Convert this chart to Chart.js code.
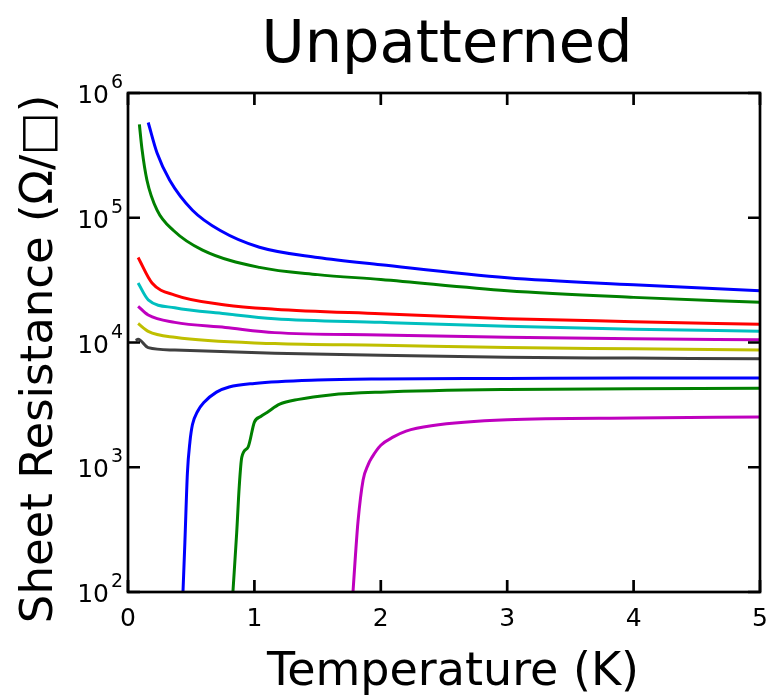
<!DOCTYPE html>
<html>
<head>
<meta charset="utf-8">
<script src="https://cdn.jsdelivr.net/npm/chart.js@4.4.1/dist/chart.umd.min.js"></script>
<style>
  body { margin: 0; background: #fff; }
</style>
</head>
<body>
<canvas id="myChart" width="769" height="696"></canvas>
<script>
// tick labels
var xTicks = [0, 1, 2, 3, 4, 5];
var yTicks = [100, 1000, 10000, 100000, 1000000];
var yTickExp = ["2", "3", "4", "5", "6"];

// curves: [temperature K, sheet resistance ohm/sq]
var blueHigh = [[0.16, 580000], [0.23, 330000], [0.33, 200000], [0.51, 115000], [0.73, 79000], [1.04, 58000], [1.5, 48000], [2, 42000], [3, 33000], [4, 29000], [5, 26000]];
var greenHigh = [[0.09, 560000], [0.11, 360000], [0.15, 200000], [0.23, 115000], [0.36, 79000], [0.59, 55000], [1.04, 40000], [1.5, 35000], [2, 32000], [3, 26000], [4, 23000], [5, 21000]];
var red = [[0.08, 48000], [0.19, 30000], [0.37, 24000], [0.77, 20000], [1.16, 18500], [2, 17000], [3, 15500], [4, 14700], [5, 14000]];
var cyan = [[0.08, 30000], [0.16, 22000], [0.37, 19000], [0.77, 17000], [1.16, 15500], [2, 14500], [3, 13500], [4, 12800], [5, 12300]];
var magentaHigh = [[0.08, 19500], [0.16, 16600], [0.37, 14500], [0.77, 13200], [1.16, 12000], [2, 11500], [3, 11000], [4, 10700], [5, 10500]];
var yellow = [[0.08, 14200], [0.16, 12300], [0.37, 11000], [1.16, 9800], [2, 9500], [3, 9100], [4, 8900], [5, 8700]];
var gray = [[0.06, 10400], [0.08, 10600], [0.16, 9100], [0.37, 8700], [1.16, 8200], [2, 7900], [3, 7600], [4, 7500], [5, 7400]];
var blueLow = [[0.435, 100], [0.45, 250], [0.47, 900], [0.49, 1600], [0.51, 2200], [0.55, 2800], [0.6, 3300], [0.7, 4000], [0.8, 4400], [1.0, 4700], [1.5, 5000], [2, 5100], [3, 5150], [4, 5200], [5, 5200]];
var greenLow = [[0.83, 100], [0.86, 300], [0.88, 700], [0.9, 1200], [0.95, 1450], [1.0, 2300], [1.05, 2550], [1.1, 2750], [1.2, 3200], [1.35, 3500], [1.6, 3800], [2, 4000], [3, 4200], [4, 4250], [5, 4300]];
var magentaLow = [[1.78, 100], [1.8, 200], [1.82, 370], [1.86, 790], [1.9, 1050], [1.93, 1200], [2.0, 1500], [2.1, 1750], [2.2, 1950], [2.4, 2150], [3, 2400], [4, 2480], [5, 2530]];

var titleText = "Unpatterned";
var xTitle = "Temperature (K)";
var yTitle = "Sheet Resistance (Ω/□)";

function toPoints(arr) {
  return arr.map(function (p) { return { x: p[0], y: p[1] }; });
}

function line(arr, color) {
  return {
    data: toPoints(arr),
    borderColor: color,
    borderWidth: 3,
    pointRadius: 0,
    fill: false,
    cubicInterpolationMode: "monotone",
  };
}

var fontName = "'DejaVu Sans', sans-serif";

// frame, inward ticks, tick labels and titles
var framePlugin = {
  id: "frame",
  afterDatasetsDraw: function (chart) {
    var c = chart.ctx;
    var a = chart.chartArea;
    var xs = chart.scales.x;
    var ys = chart.scales.y;
    var len = 12;
    c.save();
    c.strokeStyle = "#000";
    c.lineWidth = 2.7;
    c.beginPath();
    xTicks.forEach(function (v) {
      var px = xs.getPixelForValue(v);
      c.moveTo(px, a.bottom);
      c.lineTo(px, a.bottom - len);
      c.moveTo(px, a.top);
      c.lineTo(px, a.top + len);
    });
    yTicks.forEach(function (v) {
      var py = ys.getPixelForValue(v);
      c.moveTo(a.left, py);
      c.lineTo(a.left + len, py);
      c.moveTo(a.right, py);
      c.lineTo(a.right - len, py);
    });
    c.stroke();
    c.strokeRect(a.left, a.top, a.right - a.left, a.bottom - a.top);

    c.fillStyle = "#000";
    c.textBaseline = "alphabetic";

    // x tick labels
    c.font = "25px " + fontName;
    c.textAlign = "center";
    xTicks.forEach(function (v) {
      c.fillText(String(v), xs.getPixelForValue(v), a.bottom + 34);
    });

    // y tick labels 10^n
    yTicks.forEach(function (v, i) {
      var py = ys.getPixelForValue(v);
      c.font = "25px " + fontName;
      c.textAlign = "right";
      c.fillText("10", a.left - 19, py + 10);
      c.font = "19px " + fontName;
      c.textAlign = "left";
      c.fillText(yTickExp[i], a.left - 17, py - 5);
    });

    // titles
    c.textAlign = "center";
    c.font = "59px " + fontName;
    c.fillText(titleText, (a.left + a.right) / 2 + 3, 62);
    c.font = "46px " + fontName;
    c.fillText(xTitle, (a.left + a.right) / 2 + 9, 685);
    c.translate(52, 359);
    c.rotate(-Math.PI / 2);
    c.font = "45px " + fontName;
    c.fillText(yTitle, 0, 0);
    c.restore();
  },
};

var ctx = document.getElementById("myChart").getContext("2d");

var myChart = new Chart(ctx, {
  type: "line",
  data: {
    datasets: [
      line(blueHigh, "#0000ff"),
      line(greenHigh, "#008000"),
      line(red, "#ff0000"),
      line(cyan, "#00bfbf"),
      line(magentaHigh, "#bf00bf"),
      line(yellow, "#bfbf00"),
      line(gray, "#404040"),
      line(blueLow, "#0000ff"),
      line(greenLow, "#008000"),
      line(magentaLow, "#bf00bf"),
    ],
  },
  options: {
    responsive: false,
    animation: false,
    devicePixelRatio: 1,
    layout: { padding: { left: 128, right: 9, top: 93, bottom: 104 } },
    plugins: {
      legend: { display: false },
      tooltip: { enabled: false },
      title: { display: false },
    },
    scales: {
      x: {
        type: "linear",
        display: false,
        min: 0,
        max: 5,
      },
      y: {
        type: "logarithmic",
        display: false,
        min: 100,
        max: 1000000,
      },
    },
  },
  plugins: [framePlugin],
});
</script>
</body>
</html>
